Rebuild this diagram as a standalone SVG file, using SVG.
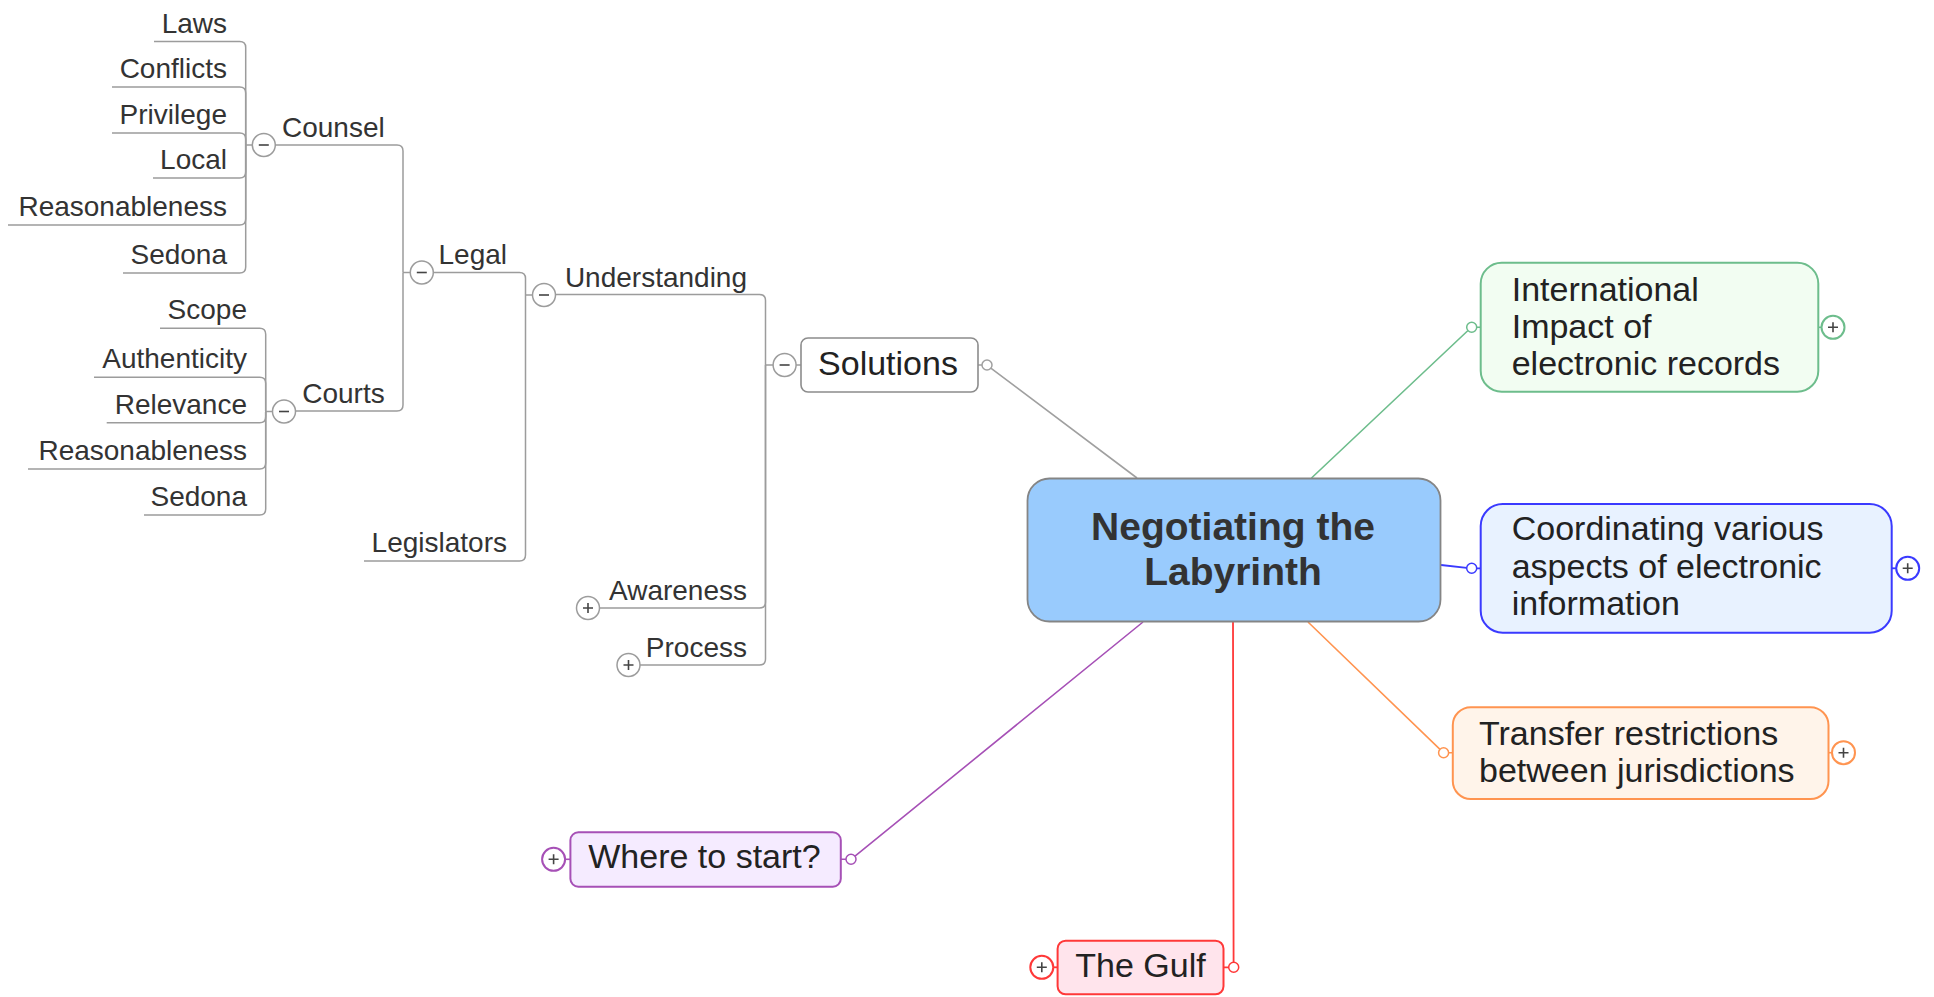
<svg xmlns="http://www.w3.org/2000/svg" width="1934" height="997" viewBox="0 0 1934 997">
<style>
.tl{fill:none;stroke:#9c9c9c;stroke-width:1.5}
.t{font-family:"Liberation Sans",Arial,sans-serif;font-size:28px;fill:#333}
.big{font-size:34px;fill:#222}
.e{text-anchor:end}
.m{text-anchor:middle}
.tog{fill:#fff;stroke:#9c9c9c;stroke-width:1.5}
.sg{stroke:#444;stroke-width:1.6;fill:none}
.dot{fill:#fff;stroke-width:1.5}
</style>
<rect width="1934" height="997" fill="#fff"/>
<g id="connectors">
  <!-- Counsel children -->
  <path class="tl" d="M154,41.5H239.7Q245.7,41.5 245.7,47.5V145"/>
  <path class="tl" d="M112,87H239.7Q245.7,87 245.7,93V145"/>
  <path class="tl" d="M112,133H239.7Q245.7,133 245.7,139V145"/>
  <path class="tl" d="M153,178H239.7Q245.7,178 245.7,172V145"/>
  <path class="tl" d="M8,225H239.7Q245.7,225 245.7,219V145"/>
  <path class="tl" d="M123,273H239.7Q245.7,273 245.7,267V145"/>
  <path class="tl" d="M245.7,145H252.3"/>
  <!-- Courts children -->
  <path class="tl" d="M160,328.3H259.7Q265.7,328.3 265.7,334.3V411.5"/>
  <path class="tl" d="M94,377.3H259.7Q265.7,377.3 265.7,383.3V411.5"/>
  <path class="tl" d="M106.7,422.7H259.7Q265.7,422.7 265.7,416.7V411.5"/>
  <path class="tl" d="M28,469H259.7Q265.7,469 265.7,463V411.5"/>
  <path class="tl" d="M144,515H259.7Q265.7,515 265.7,509V411.5"/>
  <path class="tl" d="M265.7,411.5H272.5"/>
  <!-- Counsel / Courts to Legal -->
  <path class="tl" d="M275.3,145H397Q403,145 403,151V272.5"/>
  <path class="tl" d="M295.5,411H397Q403,411 403,405V272.5"/>
  <path class="tl" d="M403,272.5H410.3"/>
  <!-- Legal / Legislators to Understanding -->
  <path class="tl" d="M433.3,272.5H519.5Q525.5,272.5 525.5,278.5V295"/>
  <path class="tl" d="M364,561H519.5Q525.5,561 525.5,555V295"/>
  <path class="tl" d="M525.5,295H532.5"/>
  <!-- Understanding / Awareness / Process to Solutions -->
  <path class="tl" d="M555.5,294.5H759.5Q765.5,294.5 765.5,300.5V365"/>
  <path class="tl" d="M599.5,608H759.5Q765.5,608 765.5,602V365"/>
  <path class="tl" d="M640,665H759.5Q765.5,665 765.5,659V365"/>
  <path class="tl" d="M765.5,365H773.1"/>
  <path class="tl" d="M796.1,365H801"/>
  <!-- central connectors -->
  <path d="M1137,478L990.5,367.8M982,365H978" stroke="#a0a0a0" stroke-width="1.6" fill="none"/>
  <path d="M1311.5,478L1468,330.5M1476.7,327.3H1480.7" stroke="#6dbd8c" stroke-width="1.6" fill="none"/>
  <path d="M1441,565L1466.7,567.8M1476.7,568.3H1480.7" stroke="#3a3aff" stroke-width="1.8" fill="none"/>
  <path d="M1308,622L1440,749.3M1448.6,752.7H1452.8" stroke="#ff9450" stroke-width="1.6" fill="none"/>
  <path d="M1143,622L855,856.2M846,859.3H840.8" stroke="#a650b6" stroke-width="1.6" fill="none"/>
  <path d="M1233,622L1233.6,962.3M1228.7,967.3H1223.5" stroke="#ff3838" stroke-width="1.8" fill="none"/>
  <!-- plus stubs -->
  <path d="M1818.3,327.3H1821.5" stroke="#6dbd8c" stroke-width="1.6"/>
  <path d="M1891.7,568.3H1896.2" stroke="#3a3aff" stroke-width="1.8"/>
  <path d="M1828.5,752.7H1832" stroke="#ff9450" stroke-width="1.6"/>
  <path d="M565.1,859.3H570.4" stroke="#a650b6" stroke-width="1.6"/>
  <path d="M1053.3,967.3H1057.6" stroke="#ff3838" stroke-width="1.8"/>
</g>
<g id="laws"><text class="t e" x="227" y="32.5">Laws</text></g>
<g id="conflicts"><text class="t e" x="227" y="78">Conflicts</text></g>
<g id="privilege"><text class="t e" x="227" y="124">Privilege</text></g>
<g id="local"><text class="t e" x="227" y="169">Local</text></g>
<g id="reasonableness1"><text class="t e" x="227" y="216">Reasonableness</text></g>
<g id="sedona1"><text class="t e" x="227" y="264">Sedona</text></g>
<g id="scope"><text class="t e" x="247" y="319.3">Scope</text></g>
<g id="authenticity"><text class="t e" x="247" y="368.3">Authenticity</text></g>
<g id="relevance"><text class="t e" x="247" y="413.7">Relevance</text></g>
<g id="reasonableness2"><text class="t e" x="247" y="460">Reasonableness</text></g>
<g id="sedona2"><text class="t e" x="247" y="506">Sedona</text></g>
<g id="counsel">
  <circle class="tog" cx="263.8" cy="145" r="11.5"/><path class="sg" d="M258.8,145H268.8"/>
  <text class="t e" x="384.7" y="137">Counsel</text>
</g>
<g id="courts">
  <circle class="tog" cx="284" cy="411.5" r="11.5"/><path class="sg" d="M279,411.5H289"/>
  <text class="t e" x="384.7" y="403">Courts</text>
</g>
<g id="legal">
  <circle class="tog" cx="421.8" cy="272.5" r="11.5"/><path class="sg" d="M416.8,272.5H426.8"/>
  <text class="t e" x="507" y="264">Legal</text>
</g>
<g id="legislators"><text class="t e" x="507" y="552">Legislators</text></g>
<g id="understanding">
  <circle class="tog" cx="544" cy="295" r="11.5"/><path class="sg" d="M539,295H549"/>
  <text class="t e" x="747" y="286.5">Understanding</text>
</g>
<g id="awareness">
  <circle class="tog" cx="588" cy="608" r="11.5"/><path class="sg" d="M583,608H593M588,603V613"/>
  <text class="t e" x="747" y="600">Awareness</text>
</g>
<g id="process">
  <circle class="tog" cx="628.5" cy="665" r="11.5"/><path class="sg" d="M623.5,665H633.5M628.5,660V670"/>
  <text class="t e" x="747" y="657">Process</text>
</g>
<g id="solutions">
  <circle class="tog" cx="784.6" cy="365" r="11.5"/><path class="sg" d="M779.6,365H789.6"/>
  <rect x="801" y="338" width="177" height="54" rx="7" fill="#fff" stroke="#8c8c8c" stroke-width="1.6"/>
  <text class="t big m" x="888" y="375">Solutions</text>
  <circle class="dot" cx="987" cy="365" r="5" stroke="#a0a0a0"/>
</g>
<g id="central">
  <rect x="1027.5" y="478.5" width="413" height="143" rx="22" fill="#99cbfd" stroke="#858585" stroke-width="1.8"/>
  <text class="t m" x="1233" y="540" style="font-size:39px;font-weight:bold;fill:#333">Negotiating the</text>
  <text class="t m" x="1233" y="585" style="font-size:39px;font-weight:bold;fill:#333">Labyrinth</text>
</g>
<g id="international">
  <rect x="1480.7" y="262.7" width="337.6" height="129" rx="21" fill="#f2fdf2" stroke="#6dbd8c" stroke-width="2"/>
  <text class="t big" x="1511.7" y="300.7">International</text>
  <text class="t big" x="1511.7" y="338">Impact of</text>
  <text class="t big" x="1511.7" y="375">electronic records</text>
  <circle class="dot" cx="1471.7" cy="327.3" r="5" stroke="#6dbd8c"/>
  <circle cx="1833" cy="327.3" r="11.5" fill="#fff" stroke="#6dbd8c" stroke-width="2"/>
  <path class="sg" d="M1828,327.3H1838M1833,322.3V332.3"/>
</g>
<g id="coordinating">
  <rect x="1480.7" y="504" width="411" height="128.7" rx="22" fill="#e8f2ff" stroke="#3a3aff" stroke-width="2"/>
  <text class="t big" x="1511.7" y="540">Coordinating various</text>
  <text class="t big" x="1511.7" y="578.3">aspects of electronic</text>
  <text class="t big" x="1511.7" y="615">information</text>
  <circle class="dot" cx="1471.7" cy="568.3" r="5" stroke="#3a3aff"/>
  <circle cx="1907.7" cy="568.3" r="11.5" fill="#fff" stroke="#3a3aff" stroke-width="2"/>
  <path class="sg" d="M1902.7,568.3H1912.7M1907.7,563.3V573.3"/>
</g>
<g id="transfer">
  <rect x="1452.8" y="707.3" width="375.7" height="91.7" rx="18" fill="#fff4ea" stroke="#ff9450" stroke-width="2"/>
  <text class="t big" x="1479" y="745">Transfer restrictions</text>
  <text class="t big" x="1479" y="781.7">between jurisdictions</text>
  <circle class="dot" cx="1443.6" cy="752.7" r="5" stroke="#ff9450"/>
  <circle cx="1843.5" cy="752.7" r="11.5" fill="#fff" stroke="#ff9450" stroke-width="2"/>
  <path class="sg" d="M1838.5,752.7H1848.5M1843.5,747.7V757.7"/>
</g>
<g id="where">
  <rect x="570.4" y="832.3" width="270.4" height="54.4" rx="8" fill="#f5ebff" stroke="#a650b6" stroke-width="2"/>
  <text class="t big m" x="704.5" y="868.3">Where to start?</text>
  <circle class="dot" cx="851" cy="859.3" r="5" stroke="#a650b6"/>
  <circle cx="553.6" cy="859.3" r="11.5" fill="#fff" stroke="#a650b6" stroke-width="2"/>
  <path class="sg" d="M548.6,859.3H558.6M553.6,854.3V864.3"/>
</g>
<g id="gulf">
  <rect x="1057.6" y="940.7" width="165.9" height="53.6" rx="8" fill="#ffe4ec" stroke="#ff3838" stroke-width="2"/>
  <text class="t big m" x="1140.5" y="976.7">The Gulf</text>
  <circle class="dot" cx="1233.7" cy="967.3" r="5" stroke="#ff3838"/>
  <circle cx="1041.8" cy="967.3" r="11.5" fill="#fff" stroke="#ff3838" stroke-width="2"/>
  <path class="sg" d="M1036.8,967.3H1046.8M1041.8,962.3V972.3"/>
</g>
</svg>
